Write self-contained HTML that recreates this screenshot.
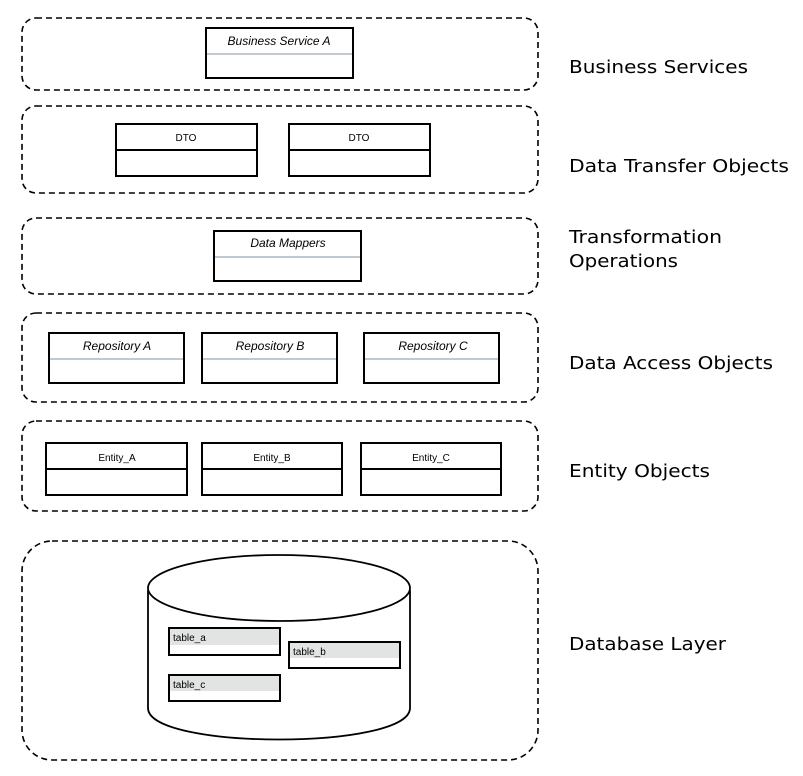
<!DOCTYPE html>
<html><head><meta charset="utf-8"><style>
html,body{margin:0;padding:0;background:#fff;}
svg{display:block;font-family:"Liberation Sans",sans-serif;}
</style></head><body>
<svg width="803" height="776" viewBox="0 0 803 776" xmlns="http://www.w3.org/2000/svg">
<g fill="none" stroke="#000" stroke-width="1.6" stroke-dasharray="6,4">
<rect x="22" y="18" width="516" height="72" rx="14"/>
<rect x="22" y="106" width="516" height="87" rx="14"/>
<rect x="22" y="218" width="516" height="76" rx="14"/>
<rect x="22" y="313" width="516" height="89" rx="14"/>
<rect x="22" y="421" width="516" height="90" rx="14"/>
<rect x="22" y="541" width="516" height="219" rx="30"/>
</g>
<g fill="#fff" stroke="#000" stroke-width="2">
<rect x="206" y="28" width="147" height="50"/>
<rect x="116" y="124" width="141" height="52"/>
<rect x="289" y="124" width="141" height="52"/>
<rect x="214" y="231" width="147" height="50"/>
<rect x="49" y="333" width="135" height="50"/>
<rect x="202" y="333" width="135" height="50"/>
<rect x="364" y="333" width="135" height="50"/>
<rect x="46" y="443" width="141" height="52"/>
<rect x="202" y="443" width="140" height="52"/>
<rect x="361" y="443" width="140" height="52"/>
</g>
<g stroke="#7f93a3" stroke-width="1">
<line x1="207" y1="54" x2="352" y2="54"/>
<line x1="215" y1="257" x2="360" y2="257"/>
<line x1="50" y1="359" x2="183" y2="359"/>
<line x1="203" y1="359" x2="336" y2="359"/>
<line x1="365" y1="359" x2="498" y2="359"/>
</g>
<g stroke="#000" stroke-width="2">
<line x1="116" y1="150" x2="257" y2="150"/>
<line x1="289" y1="150" x2="430" y2="150"/>
<line x1="46" y1="469" x2="187" y2="469"/>
<line x1="202" y1="469" x2="342" y2="469"/>
<line x1="361" y1="469" x2="501" y2="469"/>
</g>
<g font-size="11" text-anchor="middle" fill="#000">
<text x="279" y="45" font-style="italic" font-size="12">Business Service A</text>
<text x="186" y="141" font-size="10">DTO</text>
<text x="359" y="141" font-size="10">DTO</text>
<text x="288" y="247" font-style="italic" font-size="12">Data Mappers</text>
<text x="117" y="350" font-style="italic" font-size="12">Repository A</text>
<text x="270" y="350" font-style="italic" font-size="12">Repository B</text>
<text x="433" y="350" font-style="italic" font-size="12">Repository C</text>
<text x="117" y="461" font-size="10">Entity_A</text>
<text x="272" y="461" font-size="10">Entity_B</text>
<text x="431" y="461" font-size="10">Entity_C</text>
</g>
<g fill="#fff" stroke="#000" stroke-width="1.8">
<path d="M148,590 L148,708 C148,750 410,750 410,708 L410,590"/>
<ellipse cx="279" cy="588" rx="131" ry="33"/>
</g>
<g stroke="#000" stroke-width="2" fill="#fff">
<rect x="169" y="628" width="111" height="27"/>
<rect x="289" y="642" width="111" height="26"/>
<rect x="169" y="675" width="111" height="26"/>
</g>
<g fill="#e2e4e4">
<rect x="170" y="629" width="109" height="16"/>
<rect x="290" y="643" width="109" height="15"/>
<rect x="170" y="676" width="109" height="15"/>
</g>
<g font-size="10" fill="#000">
<text x="173" y="641">table_a</text>
<text x="293" y="655">table_b</text>
<text x="173" y="688">table_c</text>
</g>
<g font-size="18" fill="#000" font-family="DejaVu Sans, sans-serif">
<text x="569" y="73" textLength="179" lengthAdjust="spacingAndGlyphs">Business Services</text>
<text x="569" y="172" textLength="220" lengthAdjust="spacingAndGlyphs">Data Transfer Objects</text>
<text x="569" y="243" textLength="153" lengthAdjust="spacingAndGlyphs">Transformation</text>
<text x="569" y="267" textLength="109" lengthAdjust="spacingAndGlyphs">Operations</text>
<text x="569" y="369" textLength="204" lengthAdjust="spacingAndGlyphs">Data Access Objects</text>
<text x="569" y="477" textLength="141" lengthAdjust="spacingAndGlyphs">Entity Objects</text>
<text x="569" y="650" textLength="157" lengthAdjust="spacingAndGlyphs">Database Layer</text>
</g>
</svg>
</body></html>
